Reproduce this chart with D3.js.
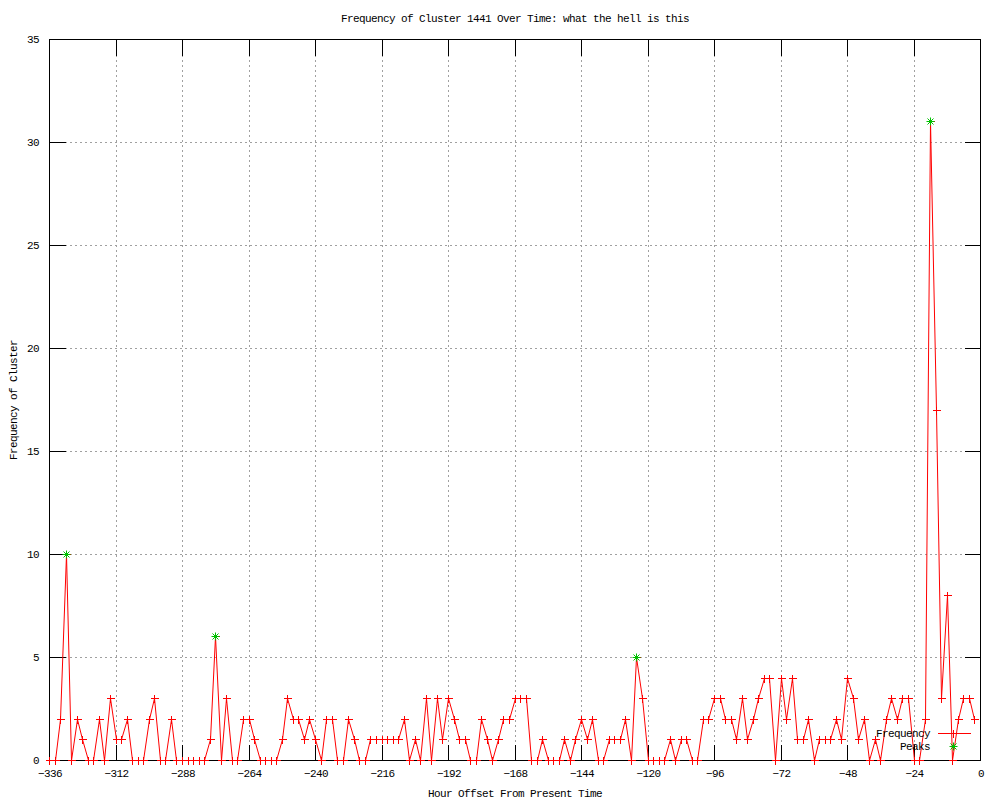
<!DOCTYPE html>
<meta charset="utf-8">
<style>
    body { margin: 0; background: #fff; }
    text { font-family: "Liberation Mono", "DejaVu Sans Mono", monospace; font-size: 11px; letter-spacing: -0.6px; fill: #000; }
</style>
<svg width="1000" height="800"></svg>
<script src="https://d3js.org/d3.v7.min.js"></script>
<script>

    // frequency per 2-hour bucket, oldest first (-336 .. -2)
    var counts = [
        0, 0, 2, 10, 0, 2, 1, 0, 0, 2, 0, 3, 1, 1, 2, 0, 0, 0, 2, 3, 0, 0, 2, 0, 0, 0, 0, 0,
        0, 1, 6, 0, 3, 0, 0, 2, 2, 1, 0, 0, 0, 0, 1, 3, 2, 2, 1, 2, 1, 0, 2, 2, 0, 0, 2,
        1, 0, 0, 1, 1, 1, 1, 1, 1, 2, 0, 1, 0, 3, 0, 3, 1, 3, 2, 1, 1, 0, 0, 2, 1, 0, 1,
        2, 2, 3, 3, 3, 0, 0, 1, 0, 0, 0, 1, 0, 1, 2, 1, 2, 0, 0, 1, 1, 1, 2, 0, 5, 3, 0,
        0, 0, 0, 1, 0, 1, 1, 0, 0, 2, 2, 3, 3, 2, 2, 1, 3, 1, 2, 3, 4, 4, 0, 4, 2, 4, 1,
        1, 2, 0, 1, 1, 1, 2, 1, 4, 3, 1, 2, 0, 1, 0, 2, 3, 2, 3, 3, 0, 0, 2, 31, 17, 3, 8, 0, 2, 3, 3, 2
    ];
    var hours = d3.range(-336, 0, 2);

    var peakHours = [-330, -276, -124, -18];
    var peakCounts = [10, 6, 5, 31];

    var xTicks = d3.range(-336, 1, 24);
    var yTicks = [0, 5, 10, 15, 20, 25, 30, 35];

    var svg = d3.select("svg");
    var pLeft = 49, pRight = 980, pTop = 39, pBottom = 760;

    var x = d3.scaleLinear().domain([-336, 0]).range([pLeft, pRight]);
    var y = d3.scaleLinear().domain([0, 35]).range([pBottom, pTop]);

    svg.append("rect").attr("width", 1000).attr("height", 800).attr("fill", "#fff");

    var g = svg.append("g").attr("transform", "translate(0.5,0.5)");

    // grid
    g.append("g").selectAll("line").data(xTicks.slice(1, -1)).enter().append("line")
        .attr("x1", function (d) { return Math.round(x(d)); })
        .attr("x2", function (d) { return Math.round(x(d)); })
        .attr("y1", pTop).attr("y2", pBottom)
        .attr("stroke", "#a0a0a0").attr("stroke-dasharray", "2,3")
        .attr("shape-rendering", "crispEdges");
    g.append("g").selectAll("line").data(yTicks.slice(1, -1)).enter().append("line")
        .attr("y1", function (d) { return Math.round(y(d)); })
        .attr("y2", function (d) { return Math.round(y(d)); })
        .attr("x1", pLeft).attr("x2", pRight)
        .attr("stroke", "#a0a0a0").attr("stroke-dasharray", "2,3")
        .attr("shape-rendering", "crispEdges");

    // ticks, inward on all four sides
    var tl = 16;
    var ticks = g.append("g").attr("stroke", "#000").attr("shape-rendering", "crispEdges");
    xTicks.forEach(function (d) {
        var px = Math.round(x(d));
        ticks.append("line").attr("x1", px).attr("x2", px).attr("y1", pBottom).attr("y2", pBottom - tl);
        ticks.append("line").attr("x1", px).attr("x2", px).attr("y1", pTop).attr("y2", pTop + tl);
    });
    yTicks.forEach(function (d) {
        var py = Math.round(y(d));
        ticks.append("line").attr("y1", py).attr("y2", py).attr("x1", pLeft).attr("x2", pLeft + tl);
        ticks.append("line").attr("y1", py).attr("y2", py).attr("x1", pRight).attr("x2", pRight - tl);
    });

    // border
    g.append("rect").attr("x", pLeft).attr("y", pTop)
        .attr("width", pRight - pLeft).attr("height", pBottom - pTop)
        .attr("fill", "none").attr("stroke", "#000").attr("shape-rendering", "crispEdges");

    // tick labels
    svg.append("g").selectAll("text").data(xTicks).enter().append("text")
        .attr("x", function (d) { return x(d) + 1; })
        .attr("y", 777)
        .attr("text-anchor", "middle")
        .text(function (d) { return d === 0 ? "0" : "\u2212" + Math.abs(d); });
    svg.append("g").selectAll("text").data(yTicks).enter().append("text")
        .attr("x", 39)
        .attr("y", function (d) { return y(d) + 4; })
        .attr("text-anchor", "end")
        .text(function (d) { return d; });

    // titles
    svg.append("text").attr("x", 515).attr("y", 22).attr("text-anchor", "middle")
        .text("Frequency of Cluster 1441 Over Time: what the hell is this");
    svg.append("text").attr("x", 515).attr("y", 797).attr("text-anchor", "middle")
        .text("Hour Offset From Present Time");
    svg.append("text").attr("transform", "translate(17,400) rotate(-90)").attr("text-anchor", "middle")
        .text("Frequency of Cluster");

    function plus(sel, cx, cy, color) {
        sel.append("path")
            .attr("d", "M" + (cx - 4) + "," + cy + "H" + (cx + 4) + "M" + cx + "," + (cy - 4) + "V" + (cy + 4))
            .attr("stroke", color).attr("fill", "none").attr("shape-rendering", "crispEdges");
    }

    function star(sel, cx, cy, color) {
        sel.append("path")
            .attr("d", "M" + (cx - 4) + "," + cy + "H" + (cx + 4) + "M" + cx + "," + (cy - 4) + "V" + (cy + 4) +
                "M" + (cx - 3) + "," + (cy - 3) + "L" + (cx + 3) + "," + (cy + 3) +
                "M" + (cx - 3) + "," + (cy + 3) + "L" + (cx + 3) + "," + (cy - 3))
            .attr("stroke", color).attr("fill", "none");
    }

    // frequency line
    var pts = hours.map(function (h, i) { return [h, counts[i]]; });
    var line = d3.line()
        .x(function (d) { return Math.round(x(d[0])); })
        .y(function (d) { return Math.round(y(d[1])); });

    var data = g.append("g");
    data.append("path").datum(pts).attr("d", line)
        .attr("fill", "none").attr("stroke", "#ff0000").attr("stroke-width", 1);
    pts.forEach(function (d) {
        plus(data, Math.round(x(d[0])), Math.round(y(d[1])), "#ff0000");
    });

    // peaks
    peakHours.forEach(function (h, i) {
        star(data, Math.round(x(h)), Math.round(y(peakCounts[i])), "#00c000");
    });

    // legend
    var lg = g.append("g");
    svg.append("text").attr("x", 930).attr("y", 737).attr("text-anchor", "end").text("Frequency");
    svg.append("text").attr("x", 930).attr("y", 750).attr("text-anchor", "end").text("Peaks");
    lg.append("line").attr("x1", 937).attr("x2", 970).attr("y1", 733).attr("y2", 733)
        .attr("stroke", "#ff0000").attr("shape-rendering", "crispEdges");
    plus(lg, 953, 733, "#ff0000");
    star(lg, 953, 746, "#00c000");

</script>
